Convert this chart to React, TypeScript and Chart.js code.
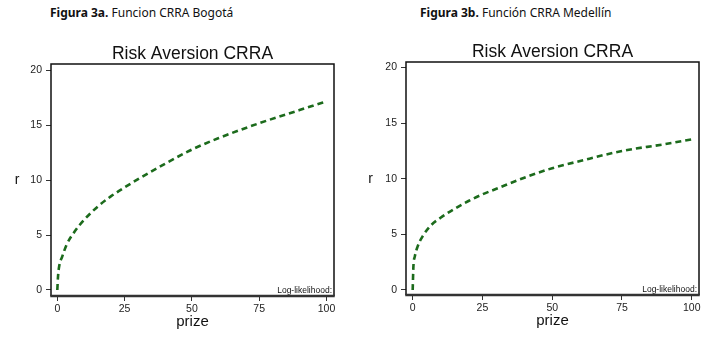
import React, { useEffect, useRef } from "react";
import { Chart, registerables } from "chart.js";

Chart.register(...registerables);

// ---- data ----
const prize = [0, 0.25, 0.75, 1.75, 3.5, 6.5, 10, 15, 20, 25, 30, 40, 50, 60, 75, 90, 100];
const rBogota = [0, 1.2, 2.25, 3.0, 4.15, 5.35, 6.4, 7.6, 8.55, 9.35, 10.1, 11.5, 12.8, 13.85, 15.2, 16.4, 17.2];
const rMedellin = [0, 2.1, 3.0, 3.9, 4.8, 5.8, 6.5, 7.3, 8.0, 8.6, 9.1, 10.1, 10.95, 11.6, 12.5, 13.1, 13.55];
const xTicks = [0, 25, 50, 75, 100];
const yTicks = [0, 5, 10, 15, 20];
const chartTitle = "Risk Aversion CRRA";
const xLabel = "prize";
const yLabel = "r";
const noteText = "Log-likelihood:";

const FONT = "'Liberation Sans', Arial, sans-serif";

type PanelCfg = {
  left: number;
  values: number[];
  area: { l: number; r: number; t: number; b: number };
  xMin: number; xMax: number; yMin: number; yMax: number;
  yLabelX: number;
};

const frameLabels = {
  id: "frameLabels",
  afterDraw(chart: any, _args: any, opts: any) {
    const { ctx, chartArea: a } = chart;
    ctx.save();
    // frame
    ctx.strokeStyle = "#111";
    ctx.lineWidth = 1.5;
    ctx.beginPath();
    ctx.moveTo(a.left, a.bottom);
    ctx.lineTo(a.left, a.top);
    ctx.lineTo(a.right, a.top);
    ctx.lineTo(a.right, a.bottom);
    ctx.stroke();
    ctx.strokeStyle = "#333";
    ctx.lineWidth = 2.5;
    ctx.beginPath();
    ctx.moveTo(a.left - 0.75, a.bottom);
    ctx.lineTo(a.right + 0.75, a.bottom);
    ctx.stroke();
    // title
    ctx.fillStyle = "#111";
    ctx.textAlign = "center";
    ctx.textBaseline = "middle";
    ctx.font = `17.5px ${FONT}`;
    ctx.fillText(chartTitle, (a.left + a.right) / 2, a.top - 9.5);
    // x label
    ctx.font = `15px ${FONT}`;
    ctx.fillText(xLabel, (a.left + a.right) / 2, a.bottom + 26);
    // y label
    ctx.font = `14px ${FONT}`;
    ctx.fillText(yLabel, opts.yLabelX, chart.scales.y.getPixelForValue(10));
    // note
    ctx.font = `8.5px ${FONT}`;
    ctx.textAlign = "right";
    ctx.textBaseline = "alphabetic";
    ctx.fillText(noteText, a.right - 2, a.bottom - 3);
    ctx.restore();
  },
};

function Panel({ cfg }: { cfg: PanelCfg }) {
  const ref = useRef<HTMLCanvasElement>(null);
  useEffect(() => {
    if (!ref.current) return;
    const W = 357, H = 343;
    const chart = new Chart(ref.current, {
      type: "scatter",
      data: {
        datasets: [
          {
            data: prize.map((p, i) => ({ x: p, y: cfg.values[i] })),
            showLine: true,
            borderColor: "#1c6b1c",
            borderWidth: 2.6,
            borderDash: [6, 4],
            pointRadius: 0,
            cubicInterpolationMode: "monotone",
            fill: false,
          },
        ],
      },
      options: {
        responsive: false,
        animation: false,
        events: [],
        layout: { padding: { top: cfg.area.t, right: W - cfg.area.r, left: 0, bottom: 0 } },
        plugins: {
          legend: { display: false },
          tooltip: { enabled: false },
          frameLabels: { yLabelX: cfg.yLabelX },
        } as any,
        scales: {
          x: {
            type: "linear",
            min: cfg.xMin,
            max: cfg.xMax,
            afterBuildTicks: (s: any) => { s.ticks = xTicks.map((v) => ({ value: v })); },
            afterFit: (s: any) => { s.height = H - cfg.area.b; },
            grid: { drawOnChartArea: false, drawTicks: true, tickLength: 5, color: "#333", tickColor: "#333" },
            border: { display: false },
            ticks: { color: "#222", font: { family: FONT, size: 10.5 }, padding: 2, maxRotation: 0, autoSkip: false },
          },
          y: {
            type: "linear",
            min: cfg.yMin,
            max: cfg.yMax,
            afterBuildTicks: (s: any) => { s.ticks = yTicks.map((v) => ({ value: v })); },
            afterFit: (s: any) => { s.width = cfg.area.l; },
            grid: { drawOnChartArea: false, drawTicks: true, tickLength: 5, color: "#333", tickColor: "#333" },
            border: { display: false },
            ticks: { color: "#222", font: { family: FONT, size: 10.5 }, padding: 4, autoSkip: false },
          },
        },
      } as any,
      plugins: [frameLabels],
    });
    return () => chart.destroy();
  }, [cfg]);
  return (
    <canvas
      ref={ref}
      width={357}
      height={343}
      style={{ position: "absolute", left: cfg.left, top: 0, width: 357, height: 343 }}
    />
  );
}

const leftCfg: PanelCfg = {
  left: 0,
  values: rBogota,
  area: { l: 51, r: 334, t: 64, b: 296 },
  xMin: -2.35, xMax: 102.8, yMin: -0.55, yMax: 20.6,
  yLabelX: 17,
};
const rightCfg: PanelCfg = {
  left: 357,
  values: rMedellin,
  area: { l: 49, r: 342, t: 62, b: 295 },
  xMin: -2.4, xMax: 102.6, yMin: -0.45, yMax: 20.5,
  yLabelX: 13.5,
};

const capStyle: React.CSSProperties = {
  position: "absolute",
  top: 4,
  fontFamily: "'Noto Sans', 'Open Sans', sans-serif",
  fontSize: 12,
  color: "#111",
  whiteSpace: "nowrap",
};

export default function App() {
  return (
    <div style={{ position: "absolute", left: 0, top: 0, width: 714, height: 343, background: "#fff", overflow: "hidden" }}>
      <div style={{ ...capStyle, left: 50 }}>
        <b>Figura 3a.</b> Funcion CRRA Bogotá
      </div>
      <div style={{ ...capStyle, left: 420 }}>
        <b>Figura 3b.</b> Función CRRA Medellín
      </div>
      <Panel cfg={leftCfg} />
      <Panel cfg={rightCfg} />
    </div>
  );
}
